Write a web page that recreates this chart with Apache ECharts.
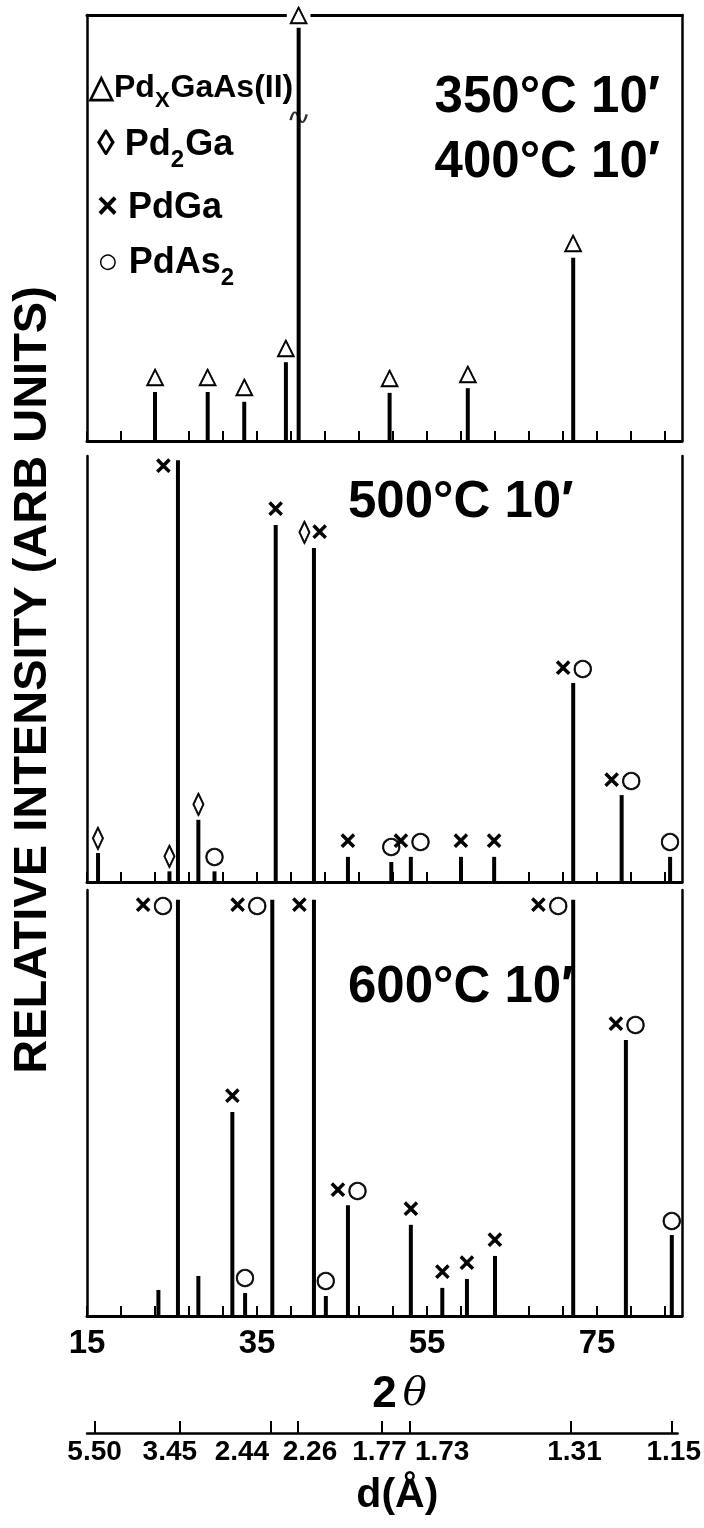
<!DOCTYPE html>
<html>
<head>
<meta charset="utf-8">
<script src="https://cdn.jsdelivr.net/npm/echarts@6/dist/echarts.min.js"></script>
<style>
html,body{margin:0;padding:0;background:#fff;}
#c{width:704px;height:1528px;}
</style>
</head>
<body>
<div id="c"></div>
<script>
// ---- data (2θ in degrees, intensity in % of panel height) ----
const pos350 = [23.0, 29.2, 33.5, 38.4, 39.9, 50.6, 59.8, 72.2];
const int350 = [11.5, 11.5, 9.2, 18.5, 97, 11.3, 12.4, 43];
const lab350 = ['△','△','△','△','△','△','△','△'];
const broken350 = [39.9];
const breakAt = [76];

const pos500 = [16.3, 24.7, 25.7, 28.1, 30.0, 37.2, 41.7, 45.7, 50.8, 53.1, 59.0, 62.9, 72.2, 77.9, 83.6];
const int500 = [6.8, 2.5, 99, 14.6, 2.5, 83.8, 78.4, 5.9, 4.7, 5.9, 5.9, 5.9, 46.7, 20.4, 5.9];
const lab500 = ['◊','◊','×','◊','○','×','◊×','×','○','×○','×','×','×○','×○','○'];

const pos600 = [23.4, 25.7, 28.1, 32.1, 33.6, 36.8, 41.7, 43.1, 45.7, 53.1, 56.8, 59.7, 63.0, 72.2, 78.4, 83.8];
const int600 = [6.1, 97.7, 9.4, 47.9, 5.4, 97.7, 97.7, 4.7, 26.0, 21.4, 6.6, 8.7, 14.1, 97.7, 64.8, 19.0];
const lab600 = ['','×○','','×','○','×○','×','○','×○','×','×','×','×','×○','×○','○'];

const tickPos = [15,19,23,27,31,35,39,43,47,51,55,59,63,67,71,75,79,83];
const tickLabels = [15,35,55,75];
const dLabels = ['5.50','3.45','2.44','2.26','1.77','1.73','1.31','1.15'];
const dPos = [15.9, 26.0, 36.8, 40.0, 49.9, 53.3, 72.3, 84.3];

const panelTitles = [['350°C 10′','400°C 10′'],['500°C 10′'],['600°C 10′']];
// legend lines: [text, isSubscript]
const legendItems = [
  [['△Pd', 0], ['X', 1], ['GaAs(II)', 0]],
  [['◊ Pd', 0], ['2', 1], ['Ga', 0]],
  [['× PdGa', 0]],
  [['○ PdAs', 0], ['2', 1]]
];

// ---- layout / style ----
const L = 87, R = 22, H = 426;
const tops = [15, 456, 890];
const TXT = 'Liberation Sans';
const SYM = 'DejaVu Sans';
const dShift = [0, -10, -29, 12, -2, 32, 4, 2];   // horizontal nudges of the d labels (px)

const grids = tops.map(t => ({left: L, right: R, top: t, height: H}));
grids.push({left: L, right: R, top: 1432, height: 1});

const axisLineStyle = {color: '#000', width: 3};
const xAxes = [];
const yAxes = [];
for (let i = 0; i < 3; i++) {
  xAxes.push({
    type: 'value', gridIndex: i, min: 15, max: 85, position: 'bottom',
    axisLine: {show: true, onZero: false, lineStyle: axisLineStyle},
    axisTick: {show: true, inside: true, length: 10, customValues: tickPos, lineStyle: {color: '#000', width: 2}},
    axisLabel: i === 2 ? {show: true, customValues: tickLabels, fontSize: 33, fontWeight: 'bold', fontFamily: TXT, color: '#000', margin: 11} : {show: false},
    splitLine: {show: false},
    name: i === 2 ? '{a|2}{b|θ}' : '',
    nameLocation: 'middle', nameGap: 57,
    nameTextStyle: {padding: [0, 0, 0, 30], rich: {
      a: {fontSize: 44, fontWeight: 'bold', fontFamily: TXT, color: '#000'},
      b: {fontSize: 40, fontStyle: 'italic', fontFamily: 'DejaVu Serif', color: '#000', padding: [0, 0, 0, 6]}}}
  });
  yAxes.push({
    type: 'value', gridIndex: i, min: 0, max: 100, position: 'left',
    axisLine: {show: true, lineStyle: {color: '#000', width: 2.5}},
    axisTick: {show: false}, axisLabel: {show: false}, splitLine: {show: false},
    name: i === 1 ? 'RELATIVE INTENSITY (ARB UNITS)' : '',
    nameLocation: 'middle', nameRotate: 90, nameGap: 30,
    nameTextStyle: {fontSize: 47, fontWeight: 'bold', fontFamily: TXT, color: '#000', padding: [0, 22, 0, 0]}
  });
  yAxes.push({
    type: 'value', gridIndex: i, min: 0, max: 100, position: 'right',
    axisLine: {show: true, lineStyle: {color: '#000', width: 2.5}},
    axisTick: {show: false}, axisLabel: {show: false}, splitLine: {show: false}
  });
}
// top border of the first panel
xAxes.push({
  type: 'value', gridIndex: 0, min: 15, max: 85, position: 'top',
  axisLine: {show: true, onZero: false, lineStyle: axisLineStyle},
  axisTick: {show: false}, axisLabel: {show: false}, splitLine: {show: false}
});
// d-spacing axis
const dRich = {};
dShift.forEach((s, k) => {
  dRich['s' + k] = {fontSize: 28, fontWeight: 'bold', fontFamily: TXT, color: '#000',
    padding: s >= 0 ? [0, 0, 0, 2 * s] : [0, -2 * s, 0, 0]};
});
xAxes.push({
  type: 'value', gridIndex: 3, min: 15, max: 85, position: 'bottom',
  axisLine: {show: true, onZero: false, lineStyle: {color: '#000', width: 2.5}},
  axisTick: {show: true, inside: true, length: 12, customValues: dPos, lineStyle: {color: '#000', width: 2}},
  axisLabel: {show: true, customValues: dPos, margin: 5, rich: dRich,
    formatter: v => { const k = dPos.findIndex(p => Math.abs(p - v) < 1e-6); return k >= 0 ? '{s' + k + '|' + dLabels[k] + '}' : ''; }},
  splitLine: {show: false},
  name: 'd(Å)', nameLocation: 'middle', nameGap: 42,
  nameTextStyle: {fontSize: 41, fontWeight: 'bold', fontFamily: TXT, color: '#000', padding: [0, 0, 0, 30]}
});
yAxes.push({type: 'value', gridIndex: 3, show: false, min: 0, max: 1});

function peakSeries(idx, pos, vals, labs, broken) {
  broken = broken || [];
  return {
    type: 'bar', xAxisIndex: idx, yAxisIndex: idx * 2, barWidth: 4,
    itemStyle: {color: '#000'},
    data: pos.map((p, k) => {
      const item = {value: [p, vals[k]]};
      const isBroken = broken.includes(p);
      const side = vals[k] >= 95 && !isBroken;
      item.label = side
        ? {position: [-3, -5], align: 'right', verticalAlign: 'top'}
        : {position: 'top', distance: 3};
      if (isBroken) { item.label.backgroundColor = '#fff'; item.label.padding = [0, 3, 0, 3]; item.label.distance = 1; }
      return item;
    }),
    label: {show: true, fontSize: 23, fontFamily: SYM, fontWeight: 'bold', color: '#000',
      textBorderColor: '#000', textBorderWidth: 0.8,
      formatter: p => labs[p.dataIndex]},
    animation: false
  };
}

const series = [
  peakSeries(0, pos350, int350, lab350, broken350),
  peakSeries(1, pos500, int500, lab500),
  peakSeries(2, pos600, int600, lab600),
  {
    type: 'scatter', xAxisIndex: 0, yAxisIndex: 0,
    data: broken350.map((p, k) => [p, breakAt[k]]),
    symbol: 'path://M0,7 C3,0 7,0 10,5 C13,10 17,10 20,3',
    symbolSize: [16, 10],
    itemStyle: {color: 'rgba(0,0,0,0)', borderColor: '#000', borderWidth: 2},
    animation: false, silent: true, z: 5
  }
];

const titleFont = {fontSize: 51, fontWeight: 'bold', fontFamily: TXT, fill: '#000'};
const graphics = [
  {type: 'text', right: 44, top: 72, style: Object.assign({text: panelTitles[0][0]}, titleFont)},
  {type: 'text', right: 44, top: 137, style: Object.assign({text: panelTitles[0][1]}, titleFont)},
  {type: 'text', left: 348, top: 477, style: Object.assign({text: panelTitles[1][0]}, titleFont)},
  {type: 'text', left: 348, top: 962, style: Object.assign({text: panelTitles[2][0]}, titleFont)}
];
// legend: each line is built from main and subscript pieces, measured with canvas
const legendF = [32, 36, 36, 36];
const legendCenters = [88, 145, 208, 263];
const legendLeft = [89, 97, 97, 97];
const mctx = document.createElement('canvas').getContext('2d');
legendItems.forEach((parts, k) => {
  const f = legendF[k];
  let x = legendLeft[k];
  parts.forEach(([t, isSub]) => {
    const fs = isSub ? Math.round(f * 0.68) : f;
    const font = 'bold ' + fs + 'px "' + TXT + '"';
    mctx.font = font;
    const w = mctx.measureText(t).width;
    graphics.push({type: 'text', x: x, y: legendCenters[k] + (isSub ? Math.round(f * 0.42) : 0), style: {
      text: t, fontSize: fs, fontWeight: 'bold', fontFamily: TXT, fill: '#000',
      align: 'left', verticalAlign: 'middle'
    }});
    x += w + (isSub ? 1 : 0);
  });
});

const chart = echarts.init(document.getElementById('c'), null, {renderer: 'canvas'});
chart.setOption({
  animation: false,
  backgroundColor: '#fff',
  grid: grids,
  xAxis: xAxes,
  yAxis: yAxes,
  series: series,
  graphic: graphics
});
</script>
</body>
</html>
